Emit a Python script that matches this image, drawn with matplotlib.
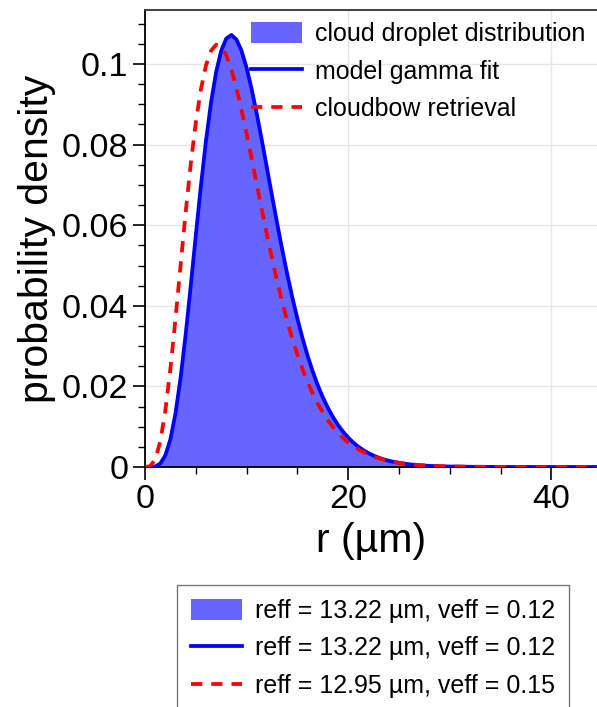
import matplotlib
matplotlib.use("Agg")
import matplotlib.pyplot as plt
import numpy as np

plt.rcParams["font.family"] = ["Liberation Sans", "DejaVu Sans"]

# droplet radius (um) at which the curves were read
r = np.array([i * 0.5 for i in range(61)] + [32, 34, 36, 38, 40, 42, 45])

# measured droplet distribution / gamma fit (reff 13.22, veff 0.12)
n_model = np.array([
    0.00000, 0.00000, 0.00013, 0.00085, 0.00287, 0.00689, 0.01329, 0.02207,
    0.03283, 0.04489, 0.05745, 0.06969, 0.08088, 0.09044, 0.09798, 0.10329,
    0.10633, 0.10720, 0.10610, 0.10329, 0.09908, 0.09378, 0.08770, 0.08111,
    0.07426, 0.06737, 0.06059, 0.05407, 0.04790, 0.04214, 0.03684, 0.03202,
    0.02767, 0.02379, 0.02036, 0.01734, 0.01470, 0.01241, 0.01044, 0.00875,
    0.00731, 0.00608, 0.00505, 0.00418, 0.00344, 0.00283, 0.00232, 0.00190,
    0.00155, 0.00126, 0.00103, 0.00083, 0.00067, 0.00054, 0.00044, 0.00035,
    0.00028, 0.00023, 0.00018, 0.00015, 0.00012, 0.00005, 0.00002, 0.00001,
    0.00000, 0.00000, 0.00000, 0.00000,
])

# cloudbow retrieval (reff 12.95, veff 0.15)
n_cloudbow = np.array([
    0.00000, 0.00019, 0.00183, 0.00627, 0.01391, 0.02437, 0.03676, 0.05001,
    0.06308, 0.07511, 0.08544, 0.09368, 0.09964, 0.10330, 0.10479, 0.10433,
    0.10219, 0.09866, 0.09405, 0.08865, 0.08271, 0.07647, 0.07011, 0.06379,
    0.05764, 0.05176, 0.04620, 0.04102, 0.03623, 0.03185, 0.02788, 0.02431,
    0.02111, 0.01827, 0.01576, 0.01355, 0.01161, 0.00993, 0.00846, 0.00720,
    0.00610, 0.00517, 0.00436, 0.00368, 0.00309, 0.00260, 0.00217, 0.00182,
    0.00152, 0.00127, 0.00105, 0.00088, 0.00073, 0.00060, 0.00050, 0.00041,
    0.00034, 0.00028, 0.00023, 0.00019, 0.00016, 0.00007, 0.00003, 0.00001,
    0.00001, 0.00000, 0.00000, 0.00000,
])

series_names = ["cloud droplet distribution", "model gamma fit", "cloudbow retrieval"]
param_labels = [
    "reff = 13.22 µm, veff = 0.12",
    "reff = 13.22 µm, veff = 0.12",
    "reff = 12.95 µm, veff = 0.15",
]
xticks = [0, 20, 40]
yticks = [0, 0.02, 0.04, 0.06, 0.08, 0.1]
yticklabels = ["0", "0.02", "0.04", "0.06", "0.08", "0.1"]

W, H = 597, 707
fig = plt.figure(figsize=(W / 100, H / 100), dpi=100)
ax = fig.add_axes([145 / W, 240 / H, 452 / W, 457 / H])

fill = ax.fill_between(r, 0, n_model, color="#6666ff", lw=0, zorder=2)
(l_model,) = ax.plot(r, n_model, color="#0000ff", lw=2.7, zorder=3)
(l_cb,) = ax.plot(r, n_cloudbow, color="#ff0000", lw=2.7, zorder=4,
                  dashes=(3.0, 2.4))

ax.set_xlim(0, 44.5)
ax.set_ylim(0, 0.1134)
ax.set_xticks(xticks)
ax.set_yticks(yticks)
ax.set_yticklabels(yticklabels)
ax.set_xticks([5, 10, 15, 25, 30, 35], minor=True)
ax.set_yticks(np.arange(0.005, 0.113, 0.005), minor=True)
ax.tick_params(which="major", direction="out", length=9, width=1.2,
               labelsize=24.5, pad=3)
ax.tick_params(which="minor", direction="out", length=5, width=1.0)
ax.grid(True, which="major", color="#e6e6e6", lw=1.0, zorder=0)
ax.set_axisbelow(True)
for side in ["left", "bottom", "top"]:
    ax.spines[side].set_linewidth(1.3)
ax.spines["top"].set_color("#333333")
ax.spines["right"].set_visible(False)

ax.set_xlabel("r (µm)", fontsize=29.5, labelpad=5)
ax.set_ylabel("probability density", fontsize=29.5, labelpad=4)

handles = [fill, l_model, l_cb]
fig.legend(handles, series_names, loc="upper left",
           bbox_to_anchor=(251 / W, 1 - 22 / H), frameon=False,
           fontsize=18, handlelength=2.04, handleheight=0.9,
           handletextpad=0.52, labelspacing=0.55, borderpad=0,
           borderaxespad=0)

leg = fig.legend(handles, param_labels, loc="upper left",
                 bbox_to_anchor=(177 / W, 1 - 585 / H), frameon=True,
                 fancybox=False, fontsize=18, handlelength=2.04,
                 handleheight=0.9, handletextpad=0.52, labelspacing=0.55,
                 borderpad=0.55, borderaxespad=0)
leg.get_frame().set_edgecolor("#555555")
leg.get_frame().set_linewidth(1.0)

fig.savefig("out.png", dpi=100)
